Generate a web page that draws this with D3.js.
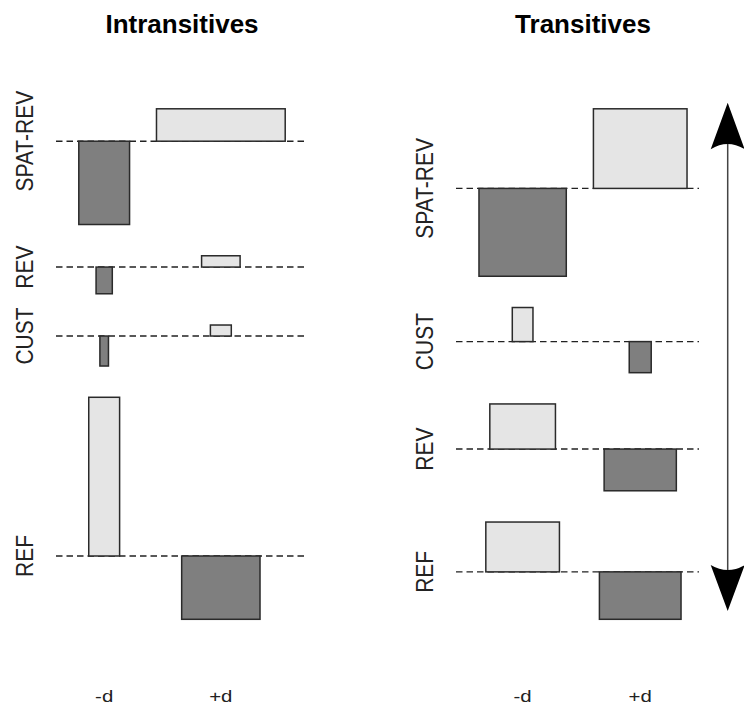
<!DOCTYPE html>
<html><head><meta charset="utf-8">
<script src="https://cdn.jsdelivr.net/npm/d3@7"></script>
<style>body{margin:0;background:#fff} svg{display:block}</style>
</head><body>
<script>
// ---- data (Pearson residuals and sqrt(expected)) ----
const columns = ["-d", "+d"];
const titles = ["Intransitives", "Transitives"];

const intransRows = ["SPAT-REV", "REV", "CUST", "REF"];          // top to bottom
const intransResidMinus = [-8.33, -2.67, -3.0, 15.87];
const intransResidPlus  = [3.24, 1.13, 1.1, -6.33];
const intransWidthMinus = [5.1, 1.63, 0.86, 3.1];
const intransWidthPlus  = [12.93, 3.87, 2.1, 7.87];

const transRows = ["SPAT-REV", "CUST", "REV", "REF"];            // top to bottom
const transResidMinus = [-8.76, 3.4, 4.5, 4.97];
const transResidPlus  = [7.94, -3.1, -4.16, -4.73];
const transWidthMinus = [8.74, 2.07, 6.57, 7.37];
const transWidthPlus  = [9.37, 2.2, 7.23, 8.17];

// ---- layout ----
const W = 744, H = 706;
const svg = d3.select("body").append("svg").attr("width", W).attr("height", H);
const plotTop = 71.5, plotBottom = 656.6;
const panels = [
  {title: titles[0], rows: intransRows, resid: [intransResidMinus, intransResidPlus],
   width: [intransWidthMinus, intransWidthPlus], x0: 56, x1: 308},
  {title: titles[1], rows: transRows, resid: [transResidMinus, transResidPlus],
   width: [transWidthMinus, transWidthPlus], x0: 456, x1: 710}
];
const lightFill = "#e5e5e5", darkFill = "#7f7f7f";
const space = 0.3;

panels.forEach(p => {
  const nR = p.rows.length, nC = columns.length;
  // assocplot geometry (rows stacked bottom-up)
  const xw = columns.map((c, j) => d3.max(p.width[j]));
  const xDelta = d3.mean(xw) * space;
  const xr = d3.sum(xw) + nC * xDelta;
  let acc = 0; const xm = [];
  xw.forEach(w => { const left = acc; acc += w + xDelta; xm.push((left + acc) / 2); });

  const bottomUp = d3.range(nR).reverse();
  const yh = p.rows.map((r, i) => d3.max(columns, (c, j) => p.resid[j][i]) - d3.min(columns, (c, j) => p.resid[j][i]));
  const yDelta = d3.mean(yh) * space;
  const yr = d3.sum(yh) + nR * yDelta;
  const ym = new Array(nR);
  let yu = 0;
  bottomUp.forEach(i => {
    yu += yh[i] + yDelta;
    const maxPos = d3.max(columns, (c, j) => Math.max(p.resid[j][i], 0));
    ym[i] = yu - maxPos - yDelta / 2;
  });

  const x = d3.scaleLinear().domain([-0.04 * xr, 1.04 * xr]).range([p.x0, p.x1]);
  const y = d3.scaleLinear().domain([-0.04 * yr, 1.04 * yr]).range([plotBottom, plotTop]);

  const g = svg.append("g");
  // baselines
  g.selectAll("line.base").data(p.rows).join("line").attr("class", "base")
    .attr("x1", x.range()[0]).attr("x2", x.range()[1])
    .attr("y1", (r, i) => y(ym[i])).attr("y2", (r, i) => y(ym[i]))
    .attr("stroke", "#222").attr("stroke-width", 1.4).attr("stroke-dasharray", "6.5,4");
  // boxes
  const cells = [];
  p.rows.forEach((r, i) => columns.forEach((c, j) => cells.push({i, j, d: p.resid[j][i], w: p.width[j][i]})));
  g.selectAll("rect.box").data(cells).join("rect").attr("class", "box")
    .attr("x", c => x(xm[c.j] - c.w / 2))
    .attr("width", c => x(xm[c.j] + c.w / 2) - x(xm[c.j] - c.w / 2))
    .attr("y", c => y(Math.max(ym[c.i], ym[c.i] + c.d)))
    .attr("height", c => Math.abs(y(ym[c.i]) - y(ym[c.i] + c.d)))
    .attr("fill", c => c.d >= 0 ? lightFill : darkFill)
    .attr("stroke", "#2a2a2a").attr("stroke-width", 1.5);
  // row labels
  g.selectAll("text.rowlab").data(p.rows).join("text").attr("class", "rowlab")
    .attr("transform", (r, i) => `translate(${x.range()[0] - 23},${y(ym[i])}) rotate(-90) scale(1,1.13)`)
    .attr("text-anchor", "middle")
    .attr("font-family", "Liberation Sans, Arial, sans-serif").attr("font-size", 21)
    .attr("fill", "#222").text(r => r);
  // column labels
  g.selectAll("text.collab").data(columns).join("text").attr("class", "collab")
    .attr("transform", (c, j) => `translate(${x(xm[j])},702) scale(1.2,1)`)
    .attr("text-anchor", "middle")
    .attr("font-family", "Liberation Sans, Arial, sans-serif").attr("font-size", 17)
    .attr("fill", "#222").text(c => c);
  // title
  g.append("text").attr("x", (x.range()[0] + x.range()[1]) / 2).attr("y", 33)
    .attr("text-anchor", "middle")
    .attr("font-family", "Liberation Sans, Arial, sans-serif").attr("font-size", 26)
    .attr("font-weight", "bold").attr("fill", "#000").text(p.title);
});

// double-headed arrow annotation (on white background)
const ax = 727.7;
svg.append("rect").attr("x", 699).attr("y", 60).attr("width", W - 699).attr("height", 600).attr("fill", "#fff");
svg.append("line").attr("x1", ax).attr("x2", ax).attr("y1", 142).attr("y2", 572)
  .attr("stroke", "#444").attr("stroke-width", 1.5);
svg.append("path").attr("d", `M${ax},102.7 L${ax + 17},149.3 Q${ax},138.7 ${ax - 17},149.3 Z`).attr("fill", "#000");
svg.append("path").attr("d", `M${ax},611 L${ax + 17},565 Q${ax},575 ${ax - 17},565 Z`).attr("fill", "#000");
</script>
</body></html>
